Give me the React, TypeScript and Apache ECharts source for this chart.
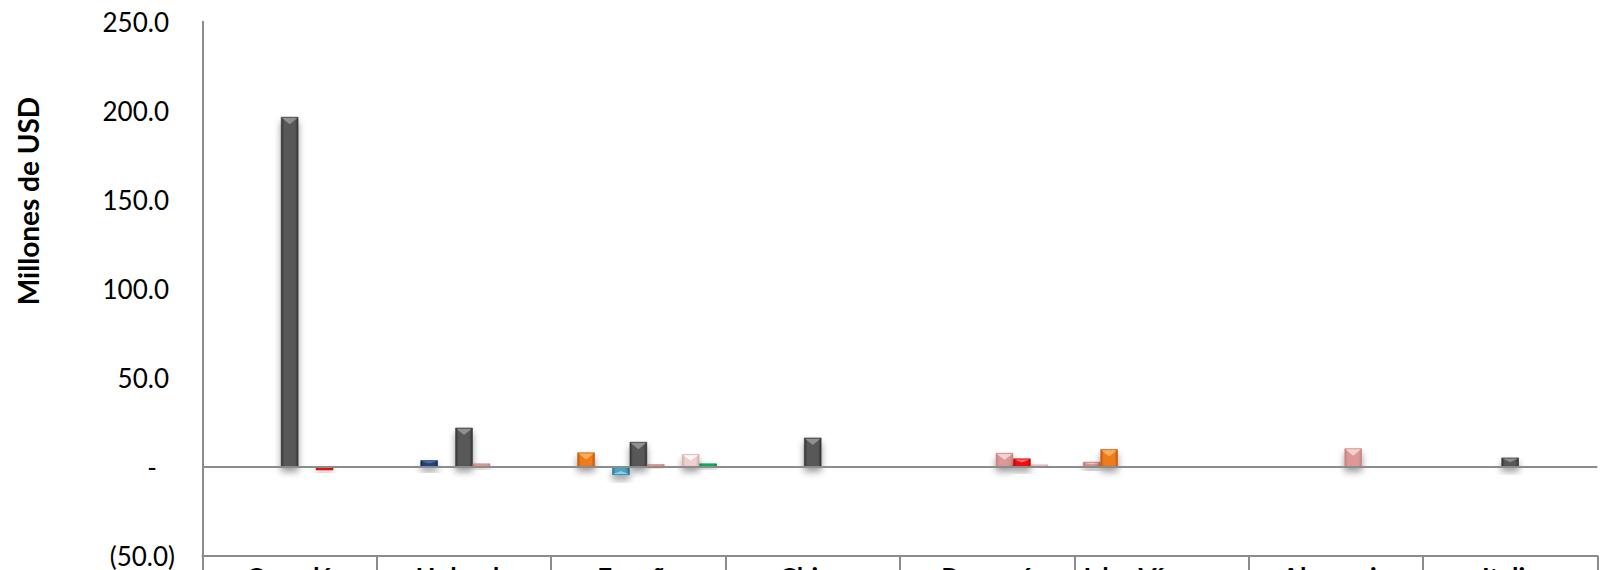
import React, { useEffect, useRef } from "react";
import * as echarts from "echarts";

const categories = ["Canadá", "Holanda", "España", "China", "Panamá", "Islas Vírgenes", "Alemania", "Italia"];

const serieNames = ["Serie 1", "Serie 2", "Serie 3", "Serie 4", "Serie 5", "Serie 6", "Serie 7", "Serie 8", "Serie 9"];

const s1 = [0, 0, 0, 0.3, 0.3, 2.7, 0, 0];
const s2 = [0, 0, 8.0, 0, -0.5, 9.8, -0.3, 0];
const s3 = [0.3, 3.6, 0, 0, 0, -0.6, 0, 0];
const s4 = [0, 0, -4.7, 0, 0, 0, 0, 0.3];
const s5 = [196.5, 21.9, 13.9, 16.3, 0, 0, 0, 5.1];
const s6 = [0.3, 1.8, 1.4, 0.3, 7.7, 0.3, 10.3, 0.3];
const s7 = [-2.0, 0, 0, 0, 4.6, 0, 0, 0];
const s8 = [0, 0, 7.0, 0, 1.2, 0.2, 0.3, 0.2];
const s9 = [0, 0.2, 1.8, 0.2, 0, 0, 0, 0.2];

const seriesValues = [s1, s2, s3, s4, s5, s6, s7, s8, s9];

// [edge, center, bevel highlight]
const seriesColors = [
  ["#bf7472", "#d9908f", "#f3cfce"],
  ["#c4560a", "#ec7c1c", "#ffb768"],
  ["#142850", "#24427c", "#5a78b0"],
  ["#2a7289", "#46a6c2", "#9ad6e8"],
  ["#333333", "#585858", "#9a9a9a"],
  ["#c27f7e", "#dc9998", "#f7dada"],
  ["#c00000", "#f21010", "#ff7a7a"],
  ["#d2a9a8", "#efcfcf", "#ffffff"],
  ["#00883c", "#10b35a", "#7fe0a8"],
];

const yTicks = { min: -50, max: 250, interval: 50 };

const FONT = "Lato, 'Open Sans', sans-serif";
const FS = 26;
const NSER = seriesValues.length;
const CAT_GAP = 0.1;

function grad(edge: string, center: string) {
  return new echarts.graphic.LinearGradient(0, 0, 1, 0, [
    { offset: 0, color: edge },
    { offset: 0.18, color: center },
    { offset: 0.82, color: center },
    { offset: 1, color: edge },
  ]);
}

export default function App() {
  const ref = useRef<HTMLDivElement>(null);
  useEffect(() => {
    if (!ref.current) return;
    const chart = echarts.init(ref.current, undefined, { renderer: "svg" });
    const bars: any[] = seriesValues.map((vals, i) => ({
      name: serieNames[i],
      type: "bar",
      data: vals,
      barGap: "0%",
      barCategoryGap: CAT_GAP * 100 + "%",
      itemStyle: {
        color: grad(seriesColors[i][0], seriesColors[i][1]),
        borderColor: seriesColors[i][0],
        borderWidth: 0.6,
        shadowBlur: 7,
        shadowColor: "rgba(0,0,0,0.4)",
        shadowOffsetY: 5,
      },
      ...(i === 0
        ? {
            markLine: {
              silent: true,
              symbol: "none",
              label: { show: false },
              lineStyle: { color: "#8c8c8c", width: 2, type: "solid" },
              data: [{ yAxis: 0 }],
            },
          }
        : {}),
    }));
    const bevels: any[] = seriesValues.map((vals, i) => ({
      name: serieNames[i] + " bevel",
      type: "custom",
      silent: true,
      z: 3,
      data: vals.map((v, c) => [c, v]),
      renderItem: (params: any, api: any) => {
        const cat = api.value(0);
        const val = api.value(1);
        const base = api.coord([cat, 0]);
        const end = api.coord([cat, val]);
        const band = api.size([1, 0])[0];
        const w = (band * (1 - CAT_GAP)) / NSER;
        const x0 = base[0] - (band * (1 - CAT_GAP)) / 2 + i * w;
        const x1 = x0 + w;
        const xc = (x0 + x1) / 2;
        const h = Math.abs(base[1] - end[1]);
        if (h < 4) return null;
        const depth = Math.min(w * 0.42, h * 0.5);
        const dir = val >= 0 ? 1 : -1;
        const yEdge = end[1];
        return {
          type: "polygon",
          shape: {
            points: [
              [x0 + 1, yEdge + dir * 1],
              [x1 - 1, yEdge + dir * 1],
              [xc, yEdge + dir * depth],
            ],
          },
          style: { fill: seriesColors[i][2], opacity: 0.85 },
        };
      },
    }));
    chart.setOption({
      animation: false,
      backgroundColor: "#ffffff",
      grid: {
        left: 202.5,
        right: 6.7,
        top: 21.7,
        bottom: 14.3,
        containLabel: false,
        outerBoundsMode: "none",
      },
      xAxis: {
        type: "category",
        data: categories,
        position: "bottom",
        axisLine: { onZero: false, lineStyle: { color: "#8c8c8c", width: 2 } },
        axisTick: { show: true, interval: 0, length: 20, lineStyle: { color: "#8c8c8c", width: 2 } },
        axisLabel: {
          interval: 0,
          margin: 8,
          fontFamily: FONT,
          fontWeight: "bold",
          fontSize: FS,
          color: "#000",
        },
        splitLine: { show: false },
      },
      yAxis: {
        type: "value",
        min: yTicks.min,
        max: yTicks.max,
        interval: yTicks.interval,
        axisLine: { show: true, lineStyle: { color: "#8c8c8c", width: 2 } },
        axisTick: { show: false },
        splitLine: { show: false },
        axisLabel: {
          margin: 27.5,
          fontFamily: FONT,
          fontSize: FS,
          color: "#000",
          formatter: (v: number) => {
            if (v === 0) return "{z|-}";
            if (v < 0) return "{n|(" + Math.abs(v).toFixed(1) + ")}";
            return "{p|" + v.toFixed(1) + "}";
          },
          rich: {
            p: { fontFamily: FONT, fontSize: FS, color: "#000", padding: [0, 6, 0, 0] },
            n: { fontFamily: FONT, fontSize: FS, color: "#000" },
            z: { fontFamily: FONT, fontSize: FS, color: "#000", padding: [0, 18, 0, 0] },
          },
        },
      },
      graphic: [
        {
          type: "text",
          x: 28,
          y: 201,
          rotation: Math.PI / 2,
          style: {
            text: "Millones de USD",
            fontFamily: FONT,
            fontWeight: "bold",
            fontSize: 28,
            fill: "#000",
            align: "center",
            verticalAlign: "middle",
          },
        },
      ],
      series: [...bars, ...bevels],
    });
    return () => chart.dispose();
  }, []);
  return (
    <div
      ref={ref}
      style={{ position: "fixed", left: 0, top: 0, width: 1604, height: 570, background: "#fff" }}
    />
  );
}
